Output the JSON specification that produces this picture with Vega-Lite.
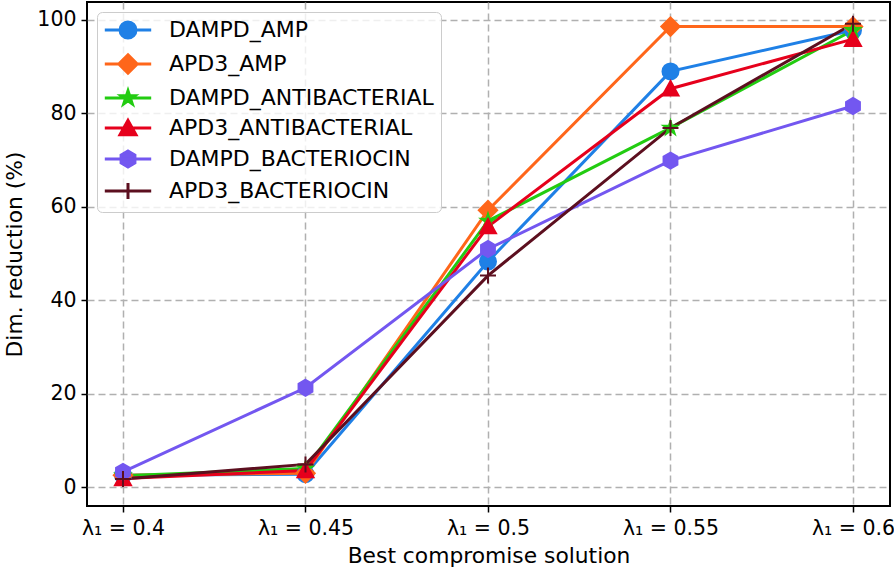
{
  "$schema": "https://vega.github.io/schema/vega-lite/v6.json",
  "autosize": {"type": "none"},
  "width": 803,
  "height": 504,
  "padding": {"left": 87, "top": 2, "right": 4, "bottom": 64},
  "background": "white",
  "config": {
    "font": "DejaVu Sans",
    "view": {"stroke": "black", "strokeWidth": 2},
    "axis": {
      "domain": false,
      "grid": true,
      "gridColor": "#b0b0b0",
      "gridDash": [7, 4],
      "gridWidth": 1.5,
      "tickColor": "black",
      "tickWidth": 1.5,
      "tickSize": 6,
      "labelFont": "DejaVu Sans",
      "labelFontSize": 20.5,
      "labelColor": "black",
      "titleFont": "DejaVu Sans",
      "titleFontSize": 21.8,
      "titleFontWeight": "normal",
      "titleColor": "black"
    }
  },
  "data": {
    "values": [
      {"l": 0.4, "s": "DAMPD_AMP", "v": 2.6},
      {"l": 0.45, "s": "DAMPD_AMP", "v": 2.8},
      {"l": 0.5, "s": "DAMPD_AMP", "v": 48.3},
      {"l": 0.55, "s": "DAMPD_AMP", "v": 89.0},
      {"l": 0.6, "s": "DAMPD_AMP", "v": 97.8},
      {"l": 0.4, "s": "APD3_AMP", "v": 2.6},
      {"l": 0.45, "s": "APD3_AMP", "v": 3.0},
      {"l": 0.5, "s": "APD3_AMP", "v": 59.3},
      {"l": 0.55, "s": "APD3_AMP", "v": 98.6},
      {"l": 0.6, "s": "APD3_AMP", "v": 98.6},
      {"l": 0.4, "s": "DAMPD_ANTIBACTERIAL", "v": 2.5},
      {"l": 0.45, "s": "DAMPD_ANTIBACTERIAL", "v": 4.0},
      {"l": 0.5, "s": "DAMPD_ANTIBACTERIAL", "v": 57.0},
      {"l": 0.55, "s": "DAMPD_ANTIBACTERIAL", "v": 76.9},
      {"l": 0.6, "s": "DAMPD_ANTIBACTERIAL", "v": 97.8},
      {"l": 0.4, "s": "APD3_ANTIBACTERIAL", "v": 1.9},
      {"l": 0.45, "s": "APD3_ANTIBACTERIAL", "v": 3.6},
      {"l": 0.5, "s": "APD3_ANTIBACTERIAL", "v": 55.8},
      {"l": 0.55, "s": "APD3_ANTIBACTERIAL", "v": 85.3},
      {"l": 0.6, "s": "APD3_ANTIBACTERIAL", "v": 95.9},
      {"l": 0.4, "s": "DAMPD_BACTERIOCIN", "v": 3.3},
      {"l": 0.45, "s": "DAMPD_BACTERIOCIN", "v": 21.3},
      {"l": 0.5, "s": "DAMPD_BACTERIOCIN", "v": 51.0},
      {"l": 0.55, "s": "DAMPD_BACTERIOCIN", "v": 69.9},
      {"l": 0.6, "s": "DAMPD_BACTERIOCIN", "v": 81.6},
      {"l": 0.4, "s": "APD3_BACTERIOCIN", "v": 1.8},
      {"l": 0.45, "s": "APD3_BACTERIOCIN", "v": 4.9},
      {"l": 0.5, "s": "APD3_BACTERIOCIN", "v": 45.3},
      {"l": 0.55, "s": "APD3_BACTERIOCIN", "v": 76.9},
      {"l": 0.6, "s": "APD3_BACTERIOCIN", "v": 99.2}
    ]
  },
  "encoding": {
    "x": {
      "field": "l",
      "type": "quantitative",
      "scale": {"domain": [0.39014, 0.61014], "nice": false, "zero": false},
      "axis": {
        "values": [0.4, 0.45, 0.5, 0.55, 0.6],
        "labelExpr": "'λ₁ = ' + format(datum.value, '.2~f')",
        "labelPadding": 6,
        "title": "Best compromise solution",
        "titlePadding": 7
      }
    },
    "y": {
      "field": "v",
      "type": "quantitative",
      "scale": {"domain": [-4.0, 103.85], "nice": false, "zero": false},
      "axis": {
        "values": [0, 20, 40, 60, 80, 100],
        "labelPadding": 5,
        "title": "Dim. reduction (%)",
        "titlePadding": 10
      }
    }
  },
  "layer": [
    {
      "mark": {"type": "line", "strokeWidth": 3},
      "encoding": {
        "color": {
          "field": "s",
          "type": "nominal",
          "scale": {
            "domain": ["DAMPD_AMP", "APD3_AMP", "DAMPD_ANTIBACTERIAL", "APD3_ANTIBACTERIAL", "DAMPD_BACTERIOCIN", "APD3_BACTERIOCIN"],
            "range": ["#1f80e6", "#ff661a", "#22cc11", "#e6001c", "#7357f0", "#5c0f1f"]
          },
          "legend": null
        },
        "order": {"field": "l", "type": "quantitative"}
      }
    },
    {
      "mark": {"type": "point", "filled": true, "opacity": 1, "strokeWidth": 2, "size": 256},
      "encoding": {
        "color": {
          "field": "s",
          "type": "nominal",
          "scale": {
            "domain": ["DAMPD_AMP", "APD3_AMP", "DAMPD_ANTIBACTERIAL", "APD3_ANTIBACTERIAL", "DAMPD_BACTERIOCIN", "APD3_BACTERIOCIN"],
            "range": ["#1f80e6", "#ff661a", "#22cc11", "#e6001c", "#7357f0", "#5c0f1f"]
          },
          "legend": null
        },
        "stroke": {
          "field": "s",
          "type": "nominal",
          "scale": {
            "domain": ["DAMPD_AMP", "APD3_AMP", "DAMPD_ANTIBACTERIAL", "APD3_ANTIBACTERIAL", "DAMPD_BACTERIOCIN", "APD3_BACTERIOCIN"],
            "range": ["#1f80e6", "#ff661a", "#22cc11", "#e6001c", "#7357f0", "#5c0f1f"]
          },
          "legend": null
        },
        "shape": {
          "field": "s",
          "type": "nominal",
          "scale": {
            "domain": ["DAMPD_AMP", "APD3_AMP", "DAMPD_ANTIBACTERIAL", "APD3_ANTIBACTERIAL", "DAMPD_BACTERIOCIN", "APD3_BACTERIOCIN"],
            "range": [
              "circle",
              "M0,-1.15L1.15,0L0,1.15L-1.15,0Z",
              "M0,-0.9L0.2,-0.276L0.856,-0.278L0.325,0.105L0.529,0.728L0,0.342L-0.529,0.728L-0.325,0.105L-0.856,-0.278L-0.2,-0.276Z",
              "M0,-0.95L1,0.85L-1,0.85Z",
              "M0,-1L0.866,-0.5L0.866,0.5L0,1L-0.866,0.5L-0.866,-0.5Z",
              "M-1,0H1M0,-1V1"
            ]
          },
          "legend": null
        }
      }
    },
    {
      "mark": {"type": "point", "filled": true, "opacity": 0, "strokeWidth": 3, "size": 256},
      "encoding": {
        "fill": {
          "field": "s",
          "type": "nominal",
          "scale": {
            "domain": ["DAMPD_AMP", "APD3_AMP", "DAMPD_ANTIBACTERIAL", "APD3_ANTIBACTERIAL", "DAMPD_BACTERIOCIN", "APD3_BACTERIOCIN"],
            "range": ["#1f80e6", "#ff661a", "#22cc11", "#e6001c", "#7357f0", "#5c0f1f"]
          },
          "legend": {"title": null}
        },
        "stroke": {
          "field": "s",
          "type": "nominal",
          "scale": {
            "domain": ["DAMPD_AMP", "APD3_AMP", "DAMPD_ANTIBACTERIAL", "APD3_ANTIBACTERIAL", "DAMPD_BACTERIOCIN", "APD3_BACTERIOCIN"],
            "range": ["#1f80e6", "#ff661a", "#22cc11", "#e6001c", "#7357f0", "#5c0f1f"]
          },
          "legend": {"title": null}
        },
        "shape": {
          "field": "s",
          "type": "nominal",
          "scale": {
            "domain": ["DAMPD_AMP", "APD3_AMP", "DAMPD_ANTIBACTERIAL", "APD3_ANTIBACTERIAL", "DAMPD_BACTERIOCIN", "APD3_BACTERIOCIN"],
            "range": [
              "M-2.9,0H2.9M1,0A1,1,0,1,1,-1,0A1,1,0,1,1,1,0Z",
              "M-2.9,0H2.9M0,-1.15L1.15,0L0,1.15L-1.15,0Z",
              "M-2.9,0H2.9M0,-0.9L0.2,-0.276L0.856,-0.278L0.325,0.105L0.529,0.728L0,0.342L-0.529,0.728L-0.325,0.105L-0.856,-0.278L-0.2,-0.276Z",
              "M-2.9,0H2.9M0,-0.95L1,0.85L-1,0.85Z",
              "M-2.9,0H2.9M0,-1L0.866,-0.5L0.866,0.5L0,1L-0.866,0.5L-0.866,-0.5Z",
              "M-2.9,0H2.9M-1,0H1M0,-1V1"
            ]
          },
          "legend": {
            "title": null,
            "orient": "top-left",
            "offset": 10,
            "padding": 7,
            "fillColor": "rgba(255,255,255,0.8)",
            "strokeColor": "#cccccc",
            "cornerRadius": 5,
            "symbolSize": 256,
            "symbolOpacity": 1,
            "symbolStrokeWidth": 3,
            "symbolOffset": 13,
            "labelFont": "DejaVu Sans",
            "labelFontSize": 22,
            "labelColor": "black",
            "labelOffset": 30,
            "rowPadding": 4,
            "labelLimit": 400
          }
        }
      }
    }
  ],
  "resolve": {"scale": {"shape": "independent", "fill": "independent", "stroke": "independent"}}
}
